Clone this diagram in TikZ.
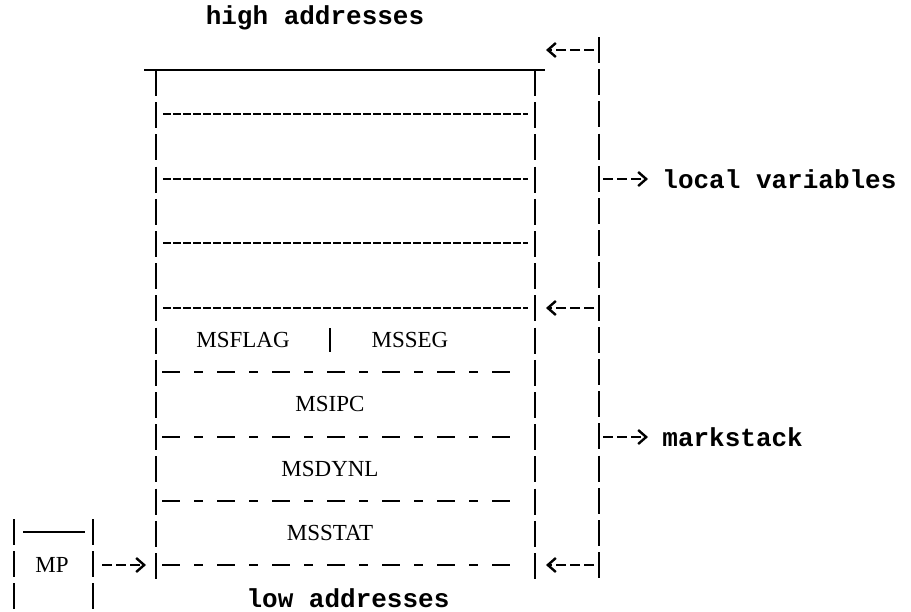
\documentclass[tikz,border=0pt]{standalone}
\usepackage{fontspec}
\usepackage{tikz}
\usetikzlibrary{arrows.meta}
\newfontfamily\typewriter{Liberation Mono}
\newfontfamily\fieldfont{Liberation Serif}
\tikzset{
    mono-label/.style = {font=\typewriter\bfseries\fontsize{13}{13}\selectfont, inner sep=0pt},
    field-label/.style = {font=\fieldfont\fontsize{11.5}{11.5}\selectfont, inner sep=0pt},
    stack-bar/.style = {line width=1.2pt, dash pattern=on 13pt off 3.1pt},
    fine-row/.style = {line width=1pt, dash pattern=on 4pt off 1pt},
    coarse-row/.style = {line width=1pt, dash pattern=on 9pt off 7pt on 4.5pt off 7pt},
    ptr-arrow/.style = {line width=1pt, dash pattern=on 5pt off 2pt, -{Straight Barb[length=4pt, width=7pt, line width=1.2pt]}},
}

\begin{document}
\begin{tikzpicture}[x=0.5pt, y=-0.5pt]
\useasboundingbox (0,0) rectangle (911,611);
\node[mono-label] (high) at (315,18) {high addresses};
\node[mono-label] (low) at (348,598) {low addresses};

% the frame and its rows
\draw[line width=0.8pt] (144,70) -- (545,70);
\draw[stack-bar] (156,70) -- (156,579);
\draw[stack-bar] (535,70) -- (535,579);
\draw[stack-bar] (599,37) -- (599,578);
\foreach \y in {114,179,243,308}
    \draw[fine-row] (163,\y) -- (528,\y);
\foreach \y in {372,437,501,565}
    \draw[coarse-row] (162,\y) -- (510,\y);

\node[field-label] (msflag) at (243,340) {MSFLAG};
\node[field-label] (msseg) at (410,340) {MSSEG};
\draw[line width=1.2pt] (330,328) -- (330,352);
\node[field-label] (msipc) at (330,404) {MSIPC};
\node[field-label] (msdynl) at (330,469) {MSDYNL};
\node[field-label] (msstat) at (330,533) {MSSTAT};

% the MP register
\draw[stack-bar] (14,519) -- (14,611);
\draw[stack-bar] (93,519) -- (93,611);
\draw[line width=1.2pt] (23,532) -- (85,532);
\node[field-label] (mp) at (52,565) {MP};
\coordinate (mp-out) at (102,565);
\coordinate (frame-in) at (146,565);
\draw[ptr-arrow] (mp-out) -- (frame-in);

% the right hand pointers
\node[mono-label, anchor=west] (locals) at (662,179) {local variables};
\node[mono-label, anchor=west] (mark) at (662,437) {markstack};
\coordinate (locals-from) at (603,179);
\coordinate (mark-from) at (603,437);
\draw[ptr-arrow] (locals-from) -- ([xshift=-7pt]locals.west);
\draw[ptr-arrow] (mark-from) -- ([xshift=-7pt]mark.west);
\foreach \y [count=\i] in {50,308,565} {
    \coordinate (back-\i-from) at (594,\y);
    \coordinate (back-\i-to) at (546,\y);
    \draw[ptr-arrow] (back-\i-from) -- (back-\i-to);
}
\end{tikzpicture}
\end{document}
